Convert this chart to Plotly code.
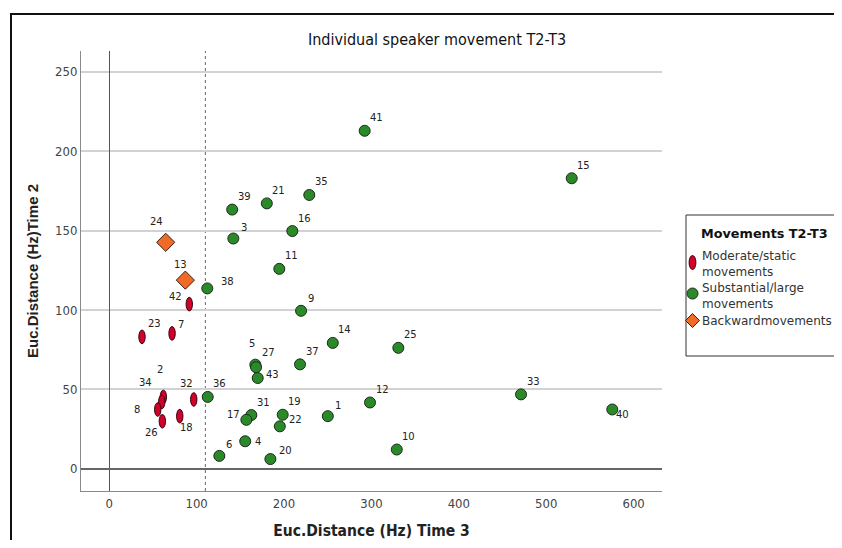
import plotly.graph_objects as go

# ---------------- data ----------------
mod_ids = [23, 7, 42, 2, 34, 8, 26, 18, 32]
mod_x = [37.5, 71.9, 91.6, 61.9, 60.1, 55.5, 60.8, 80.7, 96.7]
mod_y = [83.1, 85.3, 103.7, 45.3, 42.2, 37.4, 30.0, 33.2, 43.7]

back_ids = [24, 13]
back_x = [64.6, 87.1]
back_y = [142.6, 118.8]

sub_ids = [41, 15, 39, 21, 35, 16, 3, 11, 38, 9, 14, 25, 37, 5, 27, 43, 36, 12,
           33, 40, 1, 31, 17, 19, 22, 4, 6, 20, 10]
sub_x = [292.3, 529.2, 140.7, 180.3, 228.9, 209.5, 142.0, 194.6, 112.2, 219.5,
         255.8, 330.8, 218.3, 167.2, 168.0, 169.9, 112.7, 298.4, 471.2, 575.6,
         250.1, 162.6, 156.9, 198.5, 195.2, 155.6, 126.0, 184.4, 329.0]
sub_y = [212.8, 182.9, 163.2, 167.1, 172.4, 149.7, 145.0, 125.9, 113.6, 99.5,
         79.3, 76.2, 65.8, 65.6, 64.0, 57.2, 45.3, 41.8, 46.9, 37.4,
         33.2, 33.9, 30.9, 34.1, 26.8, 17.4, 8.2, 6.2, 12.2]

threshold_x = 110
x_ticks = [0, 100, 200, 300, 400, 500, 600]
y_ticks = [0, 50, 100, 150, 200, 250]

legend_title = "Movements T2-T3"
series_names = ["Moderate/static<br>movements", "Substantial/large<br>movements",
                "Backwardmovements"]

# ---------------- styling ----------------
RED = "#d0022c"
GREEN = "#2a8a2a"
ORANGE = "#f06a28"
EDGE = "#1c2a1c"
NARROW = "Liberation Sans Narrow, DejaVu Sans Condensed, Roboto Condensed, Roboto, sans-serif"

# the page body adds an 8px margin; lay out in screen pixels and compensate
OFF = 8
W, H = 842 - 2 * OFF, 548 - 2 * OFF
L, R, T, B = 81, 662, 51, 491          # plot area in screen pixels


def px_to_paper_x(p):
    return (p - L) / (R - L)


def px_to_paper_y(p):
    return (B - p) / (B - T)


default_off = (12, -13)
label_off = {40: (10, 5), 24: (-9, -21), 13: (-5, -16), 42: (-14, -8), 7: (9, -9),
             38: (20, -7), 3: (11, -11), 9: (10, -12), 5: (-3, -21), 27: (12, -15),
             43: (15, -4), 1: (10, -11), 17: (-13, -5), 22: (16, -7), 4: (13, 0),
             6: (10, -11), 20: (15, -9), 2: (-3, -27), 34: (-16, -19), 8: (-21, 0),
             26: (-11, 11), 18: (7, 11), 32: (-7, -16)}

fig = go.Figure()

fig.add_trace(go.Scatter(
    x=sub_x, y=sub_y, mode="markers", name=series_names[1], showlegend=False,
    marker=dict(symbol="circle", size=11, color=GREEN, line=dict(color=EDGE, width=1)),
    hoverinfo="skip"))
fig.add_trace(go.Scatter(
    x=back_x, y=back_y, mode="markers", name=series_names[2], showlegend=False,
    marker=dict(symbol="diamond", size=14, color=ORANGE, line=dict(color="#3a2010", width=1)),
    hoverinfo="skip"))

shapes = []
# dashed reference line
shapes.append(dict(type="line", xref="x", yref="paper", x0=threshold_x, x1=threshold_x,
                   y0=0, y1=1, line=dict(color="#666", width=1, dash="dot"), layer="below"))
# red ellipses (vertically elongated markers), positioned through the axes
for xv, yv in zip(mod_x, mod_y):
    shapes.append(dict(type="circle", xref="x", yref="y", xsizemode="pixel", ysizemode="pixel",
                       xanchor=xv, yanchor=yv, x0=-3.2, x1=3.2, y0=-6.8, y1=6.8,
                       fillcolor=RED, line=dict(color="#3a0010", width=1), layer="above"))

# outer frame of the chart
shapes.append(dict(type="rect", xref="paper", yref="paper",
                   x0=px_to_paper_x(11), x1=px_to_paper_x(900),
                   y0=px_to_paper_y(600), y1=px_to_paper_y(14),
                   line=dict(color="#111", width=2), fillcolor="rgba(0,0,0,0)", layer="below"))

# ---------------- legend (drawn box) ----------------
shapes.append(dict(type="rect", xref="paper", yref="paper",
                   x0=px_to_paper_x(686), x1=px_to_paper_x(900),
                   y0=px_to_paper_y(356), y1=px_to_paper_y(215),
                   line=dict(color="#333", width=1), fillcolor="white", layer="above"))
icon_x = px_to_paper_x(692.5)
shapes.append(dict(type="circle", xref="paper", yref="paper", xsizemode="pixel", ysizemode="pixel",
                   xanchor=icon_x, yanchor=px_to_paper_y(262.5), x0=-3.4, x1=3.4, y0=-7, y1=7,
                   fillcolor=RED, line=dict(color="#3a0010", width=1), layer="above"))
shapes.append(dict(type="circle", xref="paper", yref="paper", xsizemode="pixel", ysizemode="pixel",
                   xanchor=icon_x, yanchor=px_to_paper_y(293.5), x0=-5.5, x1=5.5, y0=-5.5, y1=5.5,
                   fillcolor=GREEN, line=dict(color=EDGE, width=1), layer="above"))
shapes.append(dict(type="path", xref="paper", yref="paper", xsizemode="pixel", ysizemode="pixel",
                   xanchor=icon_x, yanchor=px_to_paper_y(320.5),
                   path="M0,7 L7,0 L0,-7 L-7,0 Z",
                   fillcolor=ORANGE, line=dict(color="#3a2010", width=1), layer="above"))

annotations = []
annotations.append(dict(x=px_to_paper_x(699), y=px_to_paper_y(233), xref="paper", yref="paper",
                        text="<b>" + legend_title + "</b>", showarrow=False,
                        xanchor="left", yanchor="middle",
                        font=dict(family="DejaVu Sans", size=12.8, color="#111")))
for name, ymid in zip(series_names, [264, 296, 320.5]):
    annotations.append(dict(x=px_to_paper_x(700), y=px_to_paper_y(ymid), xref="paper", yref="paper",
                            text=name, showarrow=False, xanchor="left", yanchor="middle",
                            align="left",
                            font=dict(family="DejaVu Sans", size=12, color="#333")))

for ids, xs, ys in [(mod_ids, mod_x, mod_y), (back_ids, back_x, back_y), (sub_ids, sub_x, sub_y)]:
    for i, xv, yv in zip(ids, xs, ys):
        dx, dy = label_off.get(i, default_off)
        annotations.append(dict(x=xv, y=yv, xref="x", yref="y", text=str(i), showarrow=False,
                                xshift=dx, yshift=-dy, xanchor="center", yanchor="middle",
                                font=dict(family="DejaVu Sans", size=10, color="#222")))

fig.update_layout(
    width=W, height=H,
    margin=dict(l=L - OFF, r=W - (R - OFF), t=T - OFF, b=H - (B - OFF), autoexpand=False),
    paper_bgcolor="white", plot_bgcolor="white",
    title=dict(text="Individual speaker movement T2-T3", x=(437 - OFF) / W, xref="container",
               xanchor="center", y=1 - (39 - OFF) / H, yref="container", yanchor="middle",
               font=dict(family=NARROW, size=16, color="#111")),
    xaxis=dict(range=[-32.3, 632.5], tickvals=x_ticks, showgrid=False,
               zeroline=True, zerolinecolor="#555", zerolinewidth=1,
               showline=True, linecolor="#8a8a8a", linewidth=1, ticks="",
               tickfont=dict(family=NARROW, size=13, color="#444"),
               title=dict(text="<b>Euc.Distance (Hz) Time 3</b>", standoff=24,
                          font=dict(family=NARROW, size=15.5, color="#222"))),
    yaxis=dict(range=[-13.9, 263], tickvals=y_ticks, showgrid=True, gridcolor="#d2d2d2",
               gridwidth=1.5, zeroline=True, zerolinecolor="#666", zerolinewidth=2,
               showline=True, linecolor="#8a8a8a", linewidth=1, ticks="",
               tickfont=dict(family=NARROW, size=13, color="#444"),
               title=dict(text="<b>Euc.Distance (Hz)Time 2</b>", standoff=12,
                          font=dict(family="Liberation Sans", size=15, color="#222"))),
    shapes=shapes, annotations=annotations, showlegend=False,
)

fig.write_html("out.html")
